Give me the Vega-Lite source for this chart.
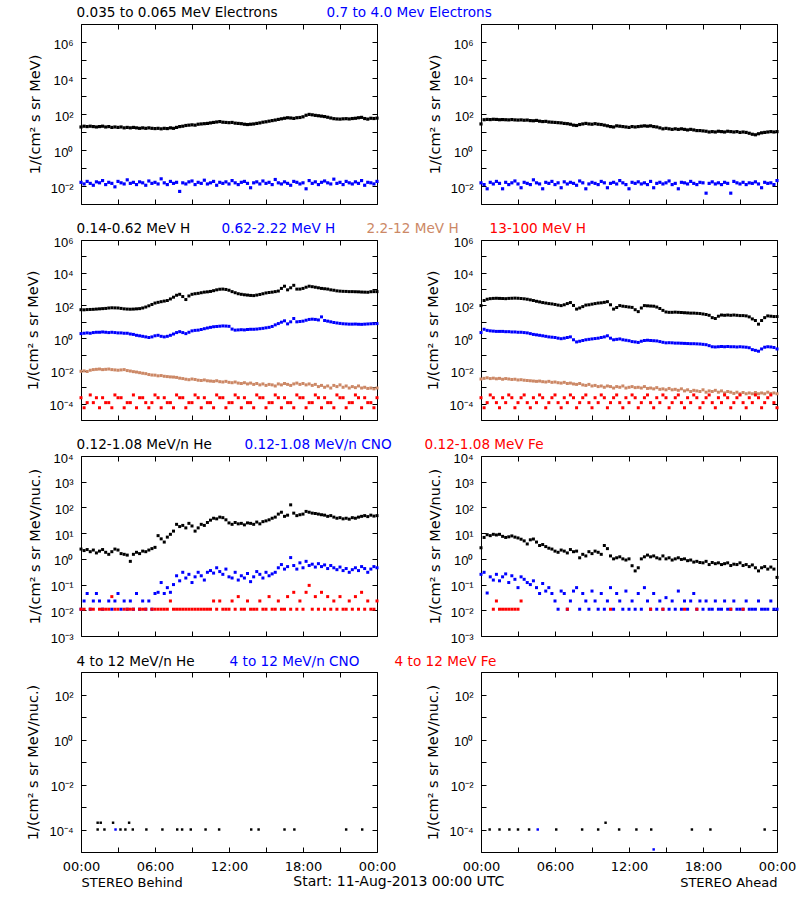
{
"$schema": "https://vega.github.io/schema/vega-lite/v6.json",
"background": "white",
"padding": {"left": 25, "top": 5, "right": 5, "bottom": 5},
"title": {"text": "Start: 11-Aug-2013 00:00 UTC", "orient": "bottom", "anchor": "middle", "font": "DejaVu Sans", "fontSize": 14, "fontWeight": "normal", "color": "black", "offset": 0, "dy": -15, "dx": -12},
"config": {
  "view": {"stroke": "black", "strokeWidth": 1},
  "font": "DejaVu Sans",
  "axis": {"grid": false, "domain": false, "tickColor": "black", "tickSize": -5, "tickWidth": 1, "labelColor": "black", "labelFont": "Liberation Sans", "labelFontSize": 13, "titleFont": "DejaVu Sans", "titleFontSize": 14.5, "titleFontWeight": "normal", "titleColor": "black", "labelFlush": false, "labelOverlap": false, "labelPadding": 13, "titlePadding": 8},
  "axisY": {"labelOffset": 2},
  "axisX": {"labelFont": "DejaVu Sans", "labelFontSize": 13, "titleFontSize": 13, "titlePadding": 3},
  "legend": {"labelFont": "DejaVu Sans", "labelFontSize": 13.6, "symbolSize": 0, "symbolOpacity": 0, "symbolStrokeWidth": 0, "symbolType": "square", "labelOffset": 0, "padding": 0, "labelLimit": 500, "title": null}
},
"datasets": {
"p1": [{"h":0,"a":19,"b":0.016},{"h":0.25,"a":21,"b":0.013},{"h":0.5,"a":20,"b":0.018},{"h":0.75,"a":21,"b":0.014},{"h":1,"a":20,"b":0.011},{"h":1.25,"a":19,"b":0.017},{"h":1.5,"a":20,"b":0.015},{"h":1.75,"a":21,"b":0.02},{"h":2,"a":19,"b":0.012},{"h":2.25,"a":20,"b":0.016},{"h":2.5,"a":18,"b":0.014},{"h":2.75,"a":19,"b":0.009},{"h":3,"a":18,"b":0.018},{"h":3.25,"a":19,"b":0.015},{"h":3.5,"a":17,"b":0.013},{"h":3.75,"a":18,"b":0.022},{"h":4,"a":17,"b":0.014},{"h":4.25,"a":18,"b":0.016},{"h":4.5,"a":17,"b":0.012},{"h":4.75,"a":16,"b":0.017},{"h":5,"a":17,"b":0.015},{"h":5.25,"a":16,"b":0.011},{"h":5.5,"a":17,"b":0.019},{"h":5.75,"a":16,"b":0.014},{"h":6,"a":15.5,"b":0.016},{"h":6.25,"a":16,"b":0.013},{"h":6.5,"a":15,"b":0.025},{"h":6.75,"a":16,"b":0.015},{"h":7,"a":15.5,"b":0.012},{"h":7.25,"a":17,"b":0.018},{"h":7.5,"a":16,"b":0.014},{"h":7.75,"a":18,"b":0.016},{"h":8,"a":20,"b":0.005},{"h":8.25,"a":21,"b":0.015},{"h":8.5,"a":23,"b":0.013},{"h":8.75,"a":24,"b":0.017},{"h":9,"a":25,"b":0.019},{"h":9.25,"a":24,"b":0.012},{"h":9.5,"a":27,"b":0.016},{"h":9.75,"a":28,"b":0.014},{"h":10,"a":29,"b":0.021},{"h":10.25,"a":30,"b":0.013},{"h":10.5,"a":32,"b":0.015},{"h":10.75,"a":34,"b":0.018},{"h":11,"a":36,"b":0.011},{"h":11.25,"a":38,"b":0.016},{"h":11.5,"a":35,"b":0.014},{"h":11.75,"a":34,"b":0.017},{"h":12,"a":33,"b":0.013},{"h":12.25,"a":34,"b":0.02},{"h":12.5,"a":31,"b":0.015},{"h":12.75,"a":30,"b":0.012},{"h":13,"a":29,"b":0.016},{"h":13.25,"a":27,"b":0.018},{"h":13.5,"a":26,"b":0.014},{"h":13.75,"a":27,"b":0.008},{"h":14,"a":28,"b":0.015},{"h":14.25,"a":30,"b":0.017},{"h":14.5,"a":32,"b":0.013},{"h":14.75,"a":35,"b":0.019},{"h":15,"a":37,"b":0.014},{"h":15.25,"a":40,"b":0.016},{"h":15.5,"a":43,"b":0.012},{"h":15.75,"a":46,"b":0.023},{"h":16,"a":50,"b":0.015},{"h":16.25,"a":54,"b":0.013},{"h":16.5,"a":58,"b":0.017},{"h":16.75,"a":62,"b":0.014},{"h":17,"a":60,"b":0.011},{"h":17.25,"a":57,"b":0.018},{"h":17.5,"a":62,"b":0.016},{"h":17.75,"a":64,"b":0.013},{"h":18,"a":70,"b":0.015},{"h":18.25,"a":85,"b":0.007},{"h":18.5,"a":95,"b":0.02},{"h":18.75,"a":90,"b":0.014},{"h":19,"a":84,"b":0.017},{"h":19.25,"a":80,"b":0.012},{"h":19.5,"a":76,"b":0.016},{"h":19.75,"a":72,"b":0.019},{"h":20,"a":66,"b":0.015},{"h":20.25,"a":60,"b":0.013},{"h":20.5,"a":55,"b":0.024},{"h":20.75,"a":53,"b":0.014},{"h":21,"a":52,"b":0.016},{"h":21.25,"a":54,"b":0.012},{"h":21.5,"a":55,"b":0.018},{"h":21.75,"a":53,"b":0.015},{"h":22,"a":56,"b":0.013},{"h":22.25,"a":58,"b":0.017},{"h":22.5,"a":62,"b":0.014},{"h":22.75,"a":65,"b":0.02},{"h":23,"a":56,"b":0.011},{"h":23.25,"a":52,"b":0.016},{"h":23.5,"a":58,"b":0.015},{"h":23.75,"a":56,"b":0.013},{"h":24,"a":59,"b":0.018}],
"p2": [{"h":0,"a":28,"b":0.015},{"h":0.25,"a":48,"b":0.012},{"h":0.5,"a":50,"b":0.007},{"h":0.75,"a":49,"b":0.016},{"h":1,"a":51,"b":0.013},{"h":1.25,"a":50,"b":0.018},{"h":1.5,"a":48,"b":0.014},{"h":1.75,"a":49,"b":0.007},{"h":2,"a":48,"b":0.016},{"h":2.25,"a":47,"b":0.012},{"h":2.5,"a":49,"b":0.015},{"h":2.75,"a":47,"b":0.019},{"h":3,"a":46,"b":0.013},{"h":3.25,"a":47,"b":0.008},{"h":3.5,"a":45,"b":0.016},{"h":3.75,"a":46,"b":0.014},{"h":4,"a":43,"b":0.012},{"h":4.25,"a":42,"b":0.022},{"h":4.5,"a":44,"b":0.015},{"h":4.75,"a":40,"b":0.013},{"h":5,"a":38,"b":0.007},{"h":5.25,"a":39,"b":0.016},{"h":5.5,"a":36,"b":0.014},{"h":5.75,"a":35,"b":0.018},{"h":6,"a":34,"b":0.012},{"h":6.25,"a":33,"b":0.015},{"h":6.5,"a":32,"b":0.008},{"h":6.75,"a":30,"b":0.017},{"h":7,"a":29,"b":0.013},{"h":7.25,"a":27,"b":0.016},{"h":7.5,"a":24,"b":0.014},{"h":7.75,"a":23,"b":0.011},{"h":8,"a":26,"b":0.019},{"h":8.25,"a":28,"b":0.015},{"h":8.5,"a":30,"b":0.007},{"h":8.75,"a":28,"b":0.013},{"h":9,"a":27,"b":0.016},{"h":9.25,"a":29,"b":0.014},{"h":9.5,"a":27,"b":0.012},{"h":9.75,"a":26,"b":0.018},{"h":10,"a":24,"b":0.015},{"h":10.25,"a":22,"b":0.008},{"h":10.5,"a":20,"b":0.014},{"h":10.75,"a":19,"b":0.016},{"h":11,"a":22,"b":0.013},{"h":11.25,"a":21,"b":0.02},{"h":11.5,"a":20,"b":0.015},{"h":11.75,"a":19,"b":0.012},{"h":12,"a":18,"b":0.007},{"h":12.25,"a":20,"b":0.016},{"h":12.5,"a":19,"b":0.014},{"h":12.75,"a":20,"b":0.017},{"h":13,"a":21,"b":0.013},{"h":13.25,"a":22,"b":0.015},{"h":13.5,"a":21,"b":0.012},{"h":13.75,"a":22,"b":0.018},{"h":14,"a":20,"b":0.008},{"h":14.25,"a":19,"b":0.014},{"h":14.5,"a":17,"b":0.016},{"h":14.75,"a":15,"b":0.013},{"h":15,"a":16,"b":0.015},{"h":15.25,"a":15,"b":0.019},{"h":15.5,"a":14,"b":0.012},{"h":15.75,"a":15,"b":0.014},{"h":16,"a":14,"b":0.007},{"h":16.25,"a":15,"b":0.016},{"h":16.5,"a":14,"b":0.015},{"h":16.75,"a":13,"b":0.013},{"h":17,"a":14,"b":0.018},{"h":17.25,"a":13,"b":0.014},{"h":17.5,"a":12,"b":0.012},{"h":17.75,"a":12,"b":0.016},{"h":18,"a":11.5,"b":0.015},{"h":18.25,"a":11,"b":0.004},{"h":18.5,"a":10,"b":0.014},{"h":18.75,"a":10.5,"b":0.017},{"h":19,"a":10,"b":0.013},{"h":19.25,"a":11,"b":0.015},{"h":19.5,"a":10.5,"b":0.012},{"h":19.75,"a":10,"b":0.016},{"h":20,"a":11,"b":0.014},{"h":20.25,"a":10.5,"b":0.004},{"h":20.5,"a":10,"b":0.018},{"h":20.75,"a":10.5,"b":0.015},{"h":21,"a":9.5,"b":0.013},{"h":21.25,"a":10,"b":0.016},{"h":21.5,"a":9.5,"b":0.012},{"h":21.75,"a":8.5,"b":0.015},{"h":22,"a":7.5,"b":0.014},{"h":22.25,"a":7,"b":0.017},{"h":22.5,"a":8,"b":0.013},{"h":22.75,"a":9,"b":0.008},{"h":23,"a":9.5,"b":0.016},{"h":23.25,"a":10,"b":0.014},{"h":23.5,"a":10.5,"b":0.015},{"h":23.75,"a":10,"b":0.012},{"h":24,"a":10.5,"b":0.02}],
"p3": [{"h":0,"a":55,"b":1.9,"c":0.0095,"d":2.3e-4},{"h":0.25,"a":54,"b":2.0,"c":0.010,"d":5.6e-5},{"h":0.5,"a":56,"b":2.1,"c":0.0092,"d":1.15e-4},{"h":0.75,"a":57,"b":2.0,"c":0.011,"d":3.4e-4},{"h":1,"a":58,"b":2.2,"c":0.012,"d":1.15e-4},{"h":1.25,"a":60,"b":2.3,"c":0.0125,"d":2.3e-4},{"h":1.5,"a":62,"b":2.3,"c":0.013,"d":5.6e-5},{"h":1.75,"a":64,"b":2.4,"c":0.012,"d":2.3e-4},{"h":2,"a":66,"b":2.3,"c":0.0125,"d":1.15e-4},{"h":2.25,"a":70,"b":2.2,"c":0.013,"d":1.15e-4},{"h":2.5,"a":72,"b":2.3,"c":0.012,"d":5.6e-5},{"h":2.75,"a":71,"b":2.2,"c":0.0115,"d":3.4e-4},{"h":3,"a":70,"b":2.1,"c":0.011,"d":2.3e-4},{"h":3.25,"a":66,"b":2.1,"c":0.0115,"d":2.3e-4},{"h":3.5,"a":62,"b":2.0,"c":0.012,"d":5.6e-5},{"h":3.75,"a":60,"b":2.0,"c":0.0105,"d":1.15e-4},{"h":4,"a":59,"b":1.8,"c":0.0098,"d":1.15e-4},{"h":4.25,"a":60,"b":1.7,"c":0.009,"d":3.4e-4},{"h":4.5,"a":62,"b":1.5,"c":0.0085,"d":5.6e-5},{"h":4.75,"a":64,"b":1.4,"c":0.0078,"d":2.3e-4},{"h":5,"a":70,"b":1.3,"c":0.0072,"d":2.3e-4},{"h":5.25,"a":80,"b":1.2,"c":0.0068,"d":1.15e-4},{"h":5.5,"a":95,"b":1.1,"c":0.006,"d":5.6e-5},{"h":5.75,"a":115,"b":1.2,"c":0.0056,"d":1.15e-4},{"h":6,"a":140,"b":1.4,"c":0.0055,"d":3.4e-4},{"h":6.25,"a":155,"b":1.5,"c":0.005,"d":2.3e-4},{"h":6.5,"a":170,"b":1.3,"c":0.0052,"d":5.6e-5},{"h":6.75,"a":185,"b":1.2,"c":0.0047,"d":2.3e-4},{"h":7,"a":200,"b":1.3,"c":0.0045,"d":1.15e-4},{"h":7.25,"a":250,"b":1.5,"c":0.0043,"d":1.15e-4},{"h":7.5,"a":320,"b":1.8,"c":0.0042,"d":5.6e-5},{"h":7.75,"a":420,"b":2.2,"c":0.004,"d":3.4e-4},{"h":8,"a":480,"b":2.5,"c":0.0036,"d":2.3e-4},{"h":8.25,"a":350,"b":2.2,"c":0.0034,"d":2.3e-4},{"h":8.5,"a":230,"b":1.9,"c":0.0031,"d":5.6e-5},{"h":8.75,"a":380,"b":2.3,"c":0.0029,"d":1.15e-4},{"h":9,"a":480,"b":2.8,"c":0.0032,"d":1.15e-4},{"h":9.25,"a":520,"b":3.0,"c":0.003,"d":3.4e-4},{"h":9.5,"a":550,"b":3.1,"c":0.0027,"d":2.3e-4},{"h":9.75,"a":600,"b":3.4,"c":0.0026,"d":5.6e-5},{"h":10,"a":650,"b":3.8,"c":0.0028,"d":2.3e-4},{"h":10.25,"a":680,"b":4.2,"c":0.0025,"d":1.15e-4},{"h":10.5,"a":720,"b":4.6,"c":0.0024,"d":1.15e-4},{"h":10.75,"a":800,"b":5.0,"c":0.0023,"d":5.6e-5},{"h":11,"a":900,"b":5.2,"c":0.0025,"d":3.4e-4},{"h":11.25,"a":980,"b":5.4,"c":0.0022,"d":2.3e-4},{"h":11.5,"a":1000,"b":5.6,"c":0.0021,"d":2.3e-4},{"h":11.75,"a":950,"b":5.5,"c":0.0023,"d":5.6e-5},{"h":12,"a":850,"b":5.3,"c":0.0020,"d":1.15e-4},{"h":12.25,"a":700,"b":3.6,"c":0.0019,"d":1.15e-4},{"h":12.5,"a":600,"b":3.1,"c":0.0021,"d":3.4e-4},{"h":12.75,"a":520,"b":3.2,"c":0.0018,"d":2.3e-4},{"h":13,"a":480,"b":3.3,"c":0.0017,"d":5.6e-5},{"h":13.25,"a":450,"b":3.2,"c":0.0019,"d":2.3e-4},{"h":13.5,"a":430,"b":3.4,"c":0.0016,"d":1.15e-4},{"h":13.75,"a":410,"b":3.5,"c":0.0018,"d":1.15e-4},{"h":14,"a":400,"b":3.5,"c":0.0015,"d":5.6e-5},{"h":14.25,"a":430,"b":3.6,"c":0.0017,"d":3.4e-4},{"h":14.5,"a":470,"b":3.8,"c":0.0014,"d":2.3e-4},{"h":14.75,"a":520,"b":4.0,"c":0.0016,"d":2.3e-4},{"h":15,"a":580,"b":4.3,"c":0.0013,"d":5.6e-5},{"h":15.25,"a":620,"b":4.6,"c":0.0015,"d":1.15e-4},{"h":15.5,"a":650,"b":5.2,"c":0.0014,"d":1.15e-4},{"h":15.75,"a":700,"b":6.5,"c":0.0012,"d":3.4e-4},{"h":16,"a":760,"b":7.8,"c":0.0016,"d":2.3e-4},{"h":16.25,"a":1100,"b":9.5,"c":0.0014,"d":5.6e-5},{"h":16.5,"a":1500,"b":11.5,"c":0.0017,"d":2.3e-4},{"h":16.75,"a":900,"b":7.5,"c":0.0015,"d":1.15e-4},{"h":17,"a":1200,"b":10,"c":0.0013,"d":1.15e-4},{"h":17.25,"a":1700,"b":16,"c":0.0016,"d":5.6e-5},{"h":17.5,"a":1000,"b":10,"c":0.0018,"d":3.4e-4},{"h":17.75,"a":1000,"b":10.5,"c":0.0015,"d":2.3e-4},{"h":18,"a":1100,"b":11,"c":0.0017,"d":2.3e-4},{"h":18.25,"a":1300,"b":12.5,"c":0.0014,"d":5.6e-5},{"h":18.5,"a":1500,"b":14,"c":0.0016,"d":1.15e-4},{"h":18.75,"a":1400,"b":14.5,"c":0.0013,"d":1.15e-4},{"h":19,"a":1300,"b":14,"c":0.0015,"d":3.4e-4},{"h":19.25,"a":1200,"b":13,"c":0.0011,"d":2.3e-4},{"h":19.5,"a":1100,"b":20,"c":0.0013,"d":5.6e-5},{"h":19.75,"a":1050,"b":12,"c":0.001,"d":2.3e-4},{"h":20,"a":1000,"b":11,"c":0.0012,"d":1.15e-4},{"h":20.25,"a":900,"b":10,"c":0.0009,"d":1.15e-4},{"h":20.5,"a":850,"b":9.1,"c":0.0013,"d":5.6e-5},{"h":20.75,"a":780,"b":8.5,"c":0.0011,"d":3.4e-4},{"h":21,"a":750,"b":8.0,"c":0.0014,"d":2.3e-4},{"h":21.25,"a":730,"b":7.6,"c":0.001,"d":2.3e-4},{"h":21.5,"a":720,"b":7.4,"c":0.0012,"d":5.6e-5},{"h":21.75,"a":700,"b":7.2,"c":0.0009,"d":1.15e-4},{"h":22,"a":700,"b":7.2,"c":0.0011,"d":1.15e-4},{"h":22.25,"a":690,"b":7.3,"c":0.00095,"d":3.4e-4},{"h":22.5,"a":680,"b":7.1,"c":0.0012,"d":2.3e-4},{"h":22.75,"a":660,"b":7.0,"c":0.0009,"d":5.6e-5},{"h":23,"a":650,"b":7.2,"c":0.001,"d":2.3e-4},{"h":23.25,"a":640,"b":7.4,"c":0.00085,"d":1.15e-4},{"h":23.5,"a":690,"b":7.6,"c":0.0009,"d":1.15e-4},{"h":23.75,"a":700,"b":7.7,"c":0.0008,"d":5.6e-5},{"h":24,"a":700,"b":7.8,"c":0.0009,"d":2.3e-4}],
"p4": [{"h":0,"a":98,"b":2.2,"c":0.0032,"d":2.3e-4},{"h":0.25,"a":200,"b":3.5,"c":0.0035,"d":5.6e-5},{"h":0.5,"a":240,"b":3.0,"c":0.0038,"d":1.15e-4},{"h":0.75,"a":260,"b":2.8,"c":0.0034,"d":3.4e-4},{"h":1,"a":270,"b":2.7,"c":0.0036,"d":2.3e-4},{"h":1.25,"a":275,"b":2.6,"c":0.0033,"d":1.15e-4},{"h":1.5,"a":270,"b":2.6,"c":0.0035,"d":5.6e-5},{"h":1.75,"a":265,"b":2.6,"c":0.0031,"d":2.3e-4},{"h":2,"a":260,"b":2.5,"c":0.0034,"d":1.15e-4},{"h":2.25,"a":270,"b":2.5,"c":0.0032,"d":3.4e-4},{"h":2.5,"a":275,"b":2.4,"c":0.003,"d":2.3e-4},{"h":2.75,"a":280,"b":2.4,"c":0.0031,"d":5.6e-5},{"h":3,"a":275,"b":2.3,"c":0.0028,"d":1.15e-4},{"h":3.25,"a":265,"b":2.3,"c":0.0029,"d":2.3e-4},{"h":3.5,"a":255,"b":2.2,"c":0.0027,"d":3.4e-4},{"h":3.75,"a":240,"b":2.1,"c":0.0026,"d":1.15e-4},{"h":4,"a":220,"b":1.9,"c":0.0025,"d":5.6e-5},{"h":4.25,"a":200,"b":1.7,"c":0.0024,"d":2.3e-4},{"h":4.5,"a":180,"b":1.6,"c":0.0023,"d":1.15e-4},{"h":4.75,"a":165,"b":1.5,"c":0.0024,"d":3.4e-4},{"h":5,"a":150,"b":1.4,"c":0.0022,"d":2.3e-4},{"h":5.25,"a":140,"b":1.3,"c":0.0021,"d":5.6e-5},{"h":5.5,"a":130,"b":1.2,"c":0.0023,"d":1.15e-4},{"h":5.75,"a":124,"b":1.15,"c":0.002,"d":2.3e-4},{"h":6,"a":115,"b":1.1,"c":0.0021,"d":3.4e-4},{"h":6.25,"a":105,"b":1.0,"c":0.0019,"d":1.15e-4},{"h":6.5,"a":98,"b":0.93,"c":0.0018,"d":5.6e-5},{"h":6.75,"a":110,"b":1.0,"c":0.002,"d":2.3e-4},{"h":7,"a":130,"b":1.1,"c":0.0017,"d":1.15e-4},{"h":7.25,"a":150,"b":1.2,"c":0.0018,"d":3.4e-4},{"h":7.5,"a":100,"b":0.8,"c":0.0016,"d":2.3e-4},{"h":7.75,"a":60,"b":0.59,"c":0.0015,"d":5.6e-5},{"h":8,"a":70,"b":0.65,"c":0.0017,"d":1.15e-4},{"h":8.25,"a":85,"b":0.72,"c":0.0014,"d":2.3e-4},{"h":8.5,"a":105,"b":0.8,"c":0.0013,"d":3.4e-4},{"h":8.75,"a":110,"b":0.85,"c":0.0015,"d":1.15e-4},{"h":9,"a":120,"b":0.9,"c":0.0012,"d":5.6e-5},{"h":9.25,"a":130,"b":0.95,"c":0.0013,"d":2.3e-4},{"h":9.5,"a":140,"b":1.0,"c":0.0011,"d":1.15e-4},{"h":9.75,"a":145,"b":1.1,"c":0.0012,"d":3.4e-4},{"h":10,"a":155,"b":1.2,"c":0.001,"d":2.3e-4},{"h":10.25,"a":170,"b":1.4,"c":0.0012,"d":5.6e-5},{"h":10.5,"a":110,"b":1.0,"c":0.0011,"d":1.15e-4},{"h":10.75,"a":60,"b":0.8,"c":0.0009,"d":2.3e-4},{"h":11,"a":75,"b":0.85,"c":0.0011,"d":3.4e-4},{"h":11.25,"a":98,"b":0.9,"c":0.001,"d":1.15e-4},{"h":11.5,"a":90,"b":0.8,"c":0.0012,"d":5.6e-5},{"h":11.75,"a":85,"b":0.75,"c":0.0009,"d":2.3e-4},{"h":12,"a":80,"b":0.7,"c":0.001,"d":1.15e-4},{"h":12.25,"a":76,"b":0.62,"c":0.0011,"d":3.4e-4},{"h":12.5,"a":55,"b":0.59,"c":0.00095,"d":2.3e-4},{"h":12.75,"a":42,"b":0.55,"c":0.001,"d":5.6e-5},{"h":13,"a":70,"b":0.65,"c":0.0009,"d":1.15e-4},{"h":13.25,"a":98,"b":0.72,"c":0.0011,"d":2.3e-4},{"h":13.5,"a":95,"b":0.75,"c":0.00085,"d":3.4e-4},{"h":13.75,"a":92,"b":0.72,"c":0.0009,"d":1.15e-4},{"h":14,"a":90,"b":0.7,"c":0.0008,"d":5.6e-5},{"h":14.25,"a":80,"b":0.68,"c":0.00095,"d":2.3e-4},{"h":14.5,"a":65,"b":0.62,"c":0.00075,"d":1.15e-4},{"h":14.75,"a":50,"b":0.56,"c":0.0008,"d":3.4e-4},{"h":15,"a":40,"b":0.52,"c":0.0007,"d":2.3e-4},{"h":15.25,"a":38,"b":0.53,"c":0.00085,"d":5.6e-5},{"h":15.5,"a":38,"b":0.52,"c":0.0007,"d":1.15e-4},{"h":15.75,"a":39,"b":0.5,"c":0.00075,"d":2.3e-4},{"h":16,"a":38,"b":0.5,"c":0.00065,"d":3.4e-4},{"h":16.25,"a":37,"b":0.49,"c":0.0008,"d":1.15e-4},{"h":16.5,"a":36,"b":0.48,"c":0.0006,"d":5.6e-5},{"h":16.75,"a":35,"b":0.47,"c":0.0007,"d":2.3e-4},{"h":17,"a":34,"b":0.46,"c":0.00055,"d":1.15e-4},{"h":17.25,"a":34,"b":0.46,"c":0.00065,"d":3.4e-4},{"h":17.5,"a":33,"b":0.45,"c":0.0006,"d":2.3e-4},{"h":17.75,"a":32,"b":0.44,"c":0.00055,"d":5.6e-5},{"h":18,"a":30,"b":0.42,"c":0.0007,"d":1.15e-4},{"h":18.25,"a":28,"b":0.4,"c":0.0005,"d":2.3e-4},{"h":18.5,"a":25,"b":0.35,"c":0.0006,"d":3.4e-4},{"h":18.75,"a":18,"b":0.3,"c":0.00055,"d":1.15e-4},{"h":19,"a":16,"b":0.29,"c":0.00065,"d":5.6e-5},{"h":19.25,"a":22,"b":0.3,"c":0.0005,"d":2.3e-4},{"h":19.5,"a":26,"b":0.31,"c":0.0006,"d":1.15e-4},{"h":19.75,"a":25,"b":0.3,"c":0.00045,"d":3.4e-4},{"h":20,"a":26,"b":0.31,"c":0.00055,"d":2.3e-4},{"h":20.25,"a":25,"b":0.3,"c":0.0005,"d":5.6e-5},{"h":20.5,"a":26,"b":0.3,"c":0.00042,"d":1.15e-4},{"h":20.75,"a":25,"b":0.29,"c":0.0005,"d":2.3e-4},{"h":21,"a":24,"b":0.3,"c":0.0004,"d":3.4e-4},{"h":21.25,"a":24,"b":0.29,"c":0.00048,"d":1.15e-4},{"h":21.5,"a":23,"b":0.28,"c":0.0004,"d":5.6e-5},{"h":21.75,"a":20,"b":0.26,"c":0.00045,"d":2.3e-4},{"h":22,"a":15,"b":0.2,"c":0.0004,"d":1.15e-4},{"h":22.25,"a":12,"b":0.18,"c":0.00048,"d":3.4e-4},{"h":22.5,"a":7.2,"b":0.16,"c":0.0004,"d":2.3e-4},{"h":22.75,"a":12,"b":0.22,"c":0.00045,"d":5.6e-5},{"h":23,"a":18,"b":0.28,"c":0.0004,"d":1.15e-4},{"h":23.25,"a":23,"b":0.3,"c":0.0005,"d":2.3e-4},{"h":23.5,"a":22,"b":0.29,"c":0.00042,"d":3.4e-4},{"h":23.75,"a":21,"b":0.27,"c":0.00045,"d":1.15e-4},{"h":24,"a":21,"b":0.22,"c":0.0004,"d":5.6e-5}],
"p5": [{"h":0,"a":2.4,"b":0.011,"c":0.011},{"h":0.25,"a":2.1,"b":0.023,"c":0.011},{"h":0.5,"a":2.3,"b":0.045},{"h":0.75,"a":1.9,"b":0.011,"c":0.011},{"h":1,"a":2.2,"b":0.023,"c":0.011},{"h":1.25,"a":1.7,"b":0.045},{"h":1.5,"a":2.0,"b":0.023,"c":0.011},{"h":1.75,"a":2.3,"b":0.011,"c":0.011},{"h":2,"a":1.8,"c":0.011},{"h":2.25,"a":1.5,"b":0.023,"c":0.011},{"h":2.5,"a":1.9,"b":0.011,"c":0.034},{"h":2.75,"a":2.4,"b":0.023,"c":0.011},{"h":3,"a":2.2,"b":0.045,"c":0.011},{"h":3.25,"a":1.6,"b":0.011},{"h":3.5,"a":1.5,"b":0.023,"c":0.011},{"h":3.75,"a":1.4,"b":0.011,"c":0.011},{"h":4,"a":0.8,"b":0.023,"c":0.011},{"h":4.25,"a":1.5,"b":0.011,"c":0.011},{"h":4.5,"a":1.8,"b":0.045},{"h":4.75,"a":1.6,"b":0.011,"c":0.011},{"h":5,"a":2.0,"b":0.023,"c":0.011},{"h":5.25,"a":1.9,"b":0.011,"c":0.011},{"h":5.5,"a":2.2,"b":0.023},{"h":5.75,"a":2.5,"b":0.011,"c":0.011},{"h":6,"a":2.8,"b":0.045,"c":0.011},{"h":6.25,"a":8,"b":0.05,"c":0.011},{"h":6.5,"a":6,"b":0.12,"c":0.011},{"h":6.75,"a":4.5,"b":0.045,"c":0.011},{"h":7,"a":7,"b":0.076,"c":0.011},{"h":7.25,"a":9,"b":0.05,"c":0.023},{"h":7.5,"a":12,"b":0.1,"c":0.011},{"h":7.75,"a":22,"b":0.22,"c":0.011},{"h":8,"a":18,"b":0.14,"c":0.011},{"h":8.25,"a":20,"b":0.3,"c":0.011},{"h":8.5,"a":16,"b":0.18,"c":0.011},{"h":8.75,"a":24,"b":0.25,"c":0.011},{"h":9,"a":19,"b":0.12,"c":0.011},{"h":9.25,"a":12,"b":0.2,"c":0.011},{"h":9.5,"a":16,"b":0.3,"c":0.011},{"h":9.75,"a":22,"b":0.22,"c":0.011},{"h":10,"a":20,"b":0.15,"c":0.011},{"h":10.25,"a":26,"b":0.3,"c":0.011},{"h":10.5,"a":32,"b":0.35,"c":0.011},{"h":10.75,"a":38,"b":0.28,"c":0.023},{"h":11,"a":36,"b":0.45,"c":0.011},{"h":11.25,"a":42,"b":0.32,"c":0.023},{"h":11.5,"a":40,"b":0.25,"c":0.011},{"h":11.75,"a":33,"b":0.4,"c":0.011},{"h":12,"a":25,"b":0.2,"c":0.011},{"h":12.25,"a":22,"b":0.18,"c":0.023},{"h":12.5,"a":26,"b":0.3,"c":0.011},{"h":12.75,"a":23,"b":0.15,"c":0.034},{"h":13,"a":24,"b":0.22,"c":0.011},{"h":13.25,"a":21,"b":0.18,"c":0.011},{"h":13.5,"a":25,"b":0.27,"c":0.023},{"h":13.75,"a":24,"b":0.13,"c":0.011},{"h":14,"a":22,"b":0.2,"c":0.011},{"h":14.25,"a":27,"b":0.32,"c":0.011},{"h":14.5,"a":23,"b":0.25,"c":0.023},{"h":14.75,"a":28,"b":0.18,"c":0.011},{"h":15,"a":30,"b":0.3,"c":0.011},{"h":15.25,"a":33,"b":0.22,"c":0.034},{"h":15.5,"a":38,"b":0.26,"c":0.011},{"h":15.75,"a":42,"b":0.3,"c":0.011},{"h":16,"a":55,"b":0.45,"c":0.023},{"h":16.25,"a":65,"b":0.6,"c":0.011},{"h":16.5,"a":45,"b":0.4,"c":0.011},{"h":16.75,"a":50,"b":0.5,"c":0.034},{"h":17,"a":126,"b":1.12,"c":0.011},{"h":17.25,"a":60,"b":0.55,"c":0.05},{"h":17.5,"a":48,"b":0.4,"c":0.011},{"h":17.75,"a":52,"b":0.7,"c":0.023},{"h":18,"a":55,"b":0.45,"c":0.011},{"h":18.25,"a":70,"b":0.8,"c":0.05},{"h":18.5,"a":65,"b":0.55,"c":0.093},{"h":18.75,"a":60,"b":0.62,"c":0.011},{"h":19,"a":58,"b":0.48,"c":0.034},{"h":19.25,"a":55,"b":0.65,"c":0.011},{"h":19.5,"a":52,"b":0.5,"c":0.05},{"h":19.75,"a":50,"b":0.58,"c":0.011},{"h":20,"a":45,"b":0.42,"c":0.034},{"h":20.25,"a":48,"b":0.55,"c":0.011},{"h":20.5,"a":42,"b":0.45,"c":0.023},{"h":20.75,"a":38,"b":0.38,"c":0.011},{"h":21,"a":40,"b":0.48,"c":0.034},{"h":21.25,"a":36,"b":0.35,"c":0.011},{"h":21.5,"a":38,"b":0.42,"c":0.011},{"h":21.75,"a":35,"b":0.3,"c":0.023},{"h":22,"a":40,"b":0.38,"c":0.011},{"h":22.25,"a":38,"b":0.45,"c":0.034},{"h":22.5,"a":42,"b":0.35,"c":0.011},{"h":22.75,"a":45,"b":0.5,"c":0.05},{"h":23,"a":48,"b":0.42,"c":0.011},{"h":23.25,"a":44,"b":0.3,"c":0.023},{"h":23.5,"a":50,"b":0.4,"c":0.011},{"h":23.75,"a":46,"b":0.5,"c":0.011},{"h":24,"a":48,"b":0.45,"c":0.023}],
"p6": [{"h":0,"a":2.7,"b":0.25},{"h":0.25,"a":6.8,"b":0.3},{"h":0.5,"a":8.7,"b":0.047},{"h":0.75,"a":8.0,"b":0.2},{"h":1,"a":9.0,"b":0.15,"c":0.011},{"h":1.25,"a":8.5,"b":0.25,"c":0.023},{"h":1.5,"a":9.0,"b":0.14,"c":0.011},{"h":1.75,"a":7.5,"b":0.2,"c":0.011},{"h":2,"a":6.8,"b":0.26,"c":0.011},{"h":2.25,"a":7.2,"b":0.12,"c":0.011},{"h":2.5,"a":7.8,"b":0.22,"c":0.011},{"h":2.75,"a":7.0,"b":0.16,"c":0.011},{"h":3,"a":6.5,"b":0.076,"c":0.011},{"h":3.25,"a":5.8,"b":0.2,"c":0.023},{"h":3.5,"a":5.0,"b":0.16},{"h":3.75,"a":3.8,"b":0.12},{"h":4,"a":5.5,"b":0.1},{"h":4.25,"a":5.9,"b":0.14},{"h":4.5,"a":4.5,"b":0.076},{"h":4.75,"a":3.3,"b":0.045},{"h":5,"a":3.6,"b":0.11},{"h":5.25,"a":3.0,"b":0.056},{"h":5.5,"a":2.6,"b":0.076},{"h":5.75,"a":2.4,"b":0.045},{"h":6,"a":2.0,"b":0.023},{"h":6.25,"a":1.8,"b":0.011},{"h":6.5,"a":2.2,"b":0.056},{"h":6.75,"a":2.0,"b":0.045},{"h":7,"a":1.7,"b":0.011,"c":0.011},{"h":7.25,"a":2.3,"b":0.023},{"h":7.5,"a":1.9,"b":0.056},{"h":7.75,"a":2.0,"b":0.076},{"h":8,"a":1.1,"b":0.011},{"h":8.25,"a":1.5,"b":0.045},{"h":8.5,"a":1.3,"b":0.023},{"h":8.75,"a":1.9,"b":0.011},{"h":9,"a":1.6,"b":0.056},{"h":9.25,"a":2.0,"b":0.023},{"h":9.5,"a":1.8,"b":0.011},{"h":9.75,"a":1.5,"b":0.045},{"h":10,"a":3.3,"b":0.011},{"h":10.25,"a":2.5,"b":0.023},{"h":10.5,"a":1.3,"b":0.076,"c":0.011},{"h":10.75,"a":1.0,"b":0.011},{"h":11,"a":1.1,"b":0.045},{"h":11.25,"a":1.2,"b":0.023},{"h":11.5,"a":1.0,"b":0.011},{"h":11.75,"a":0.9,"b":0.056},{"h":12,"a":1.0,"b":0.011},{"h":12.25,"a":0.54,"b":0.023},{"h":12.5,"a":0.34,"b":0.011},{"h":12.75,"a":0.45,"b":0.045},{"h":13,"a":1.0,"b":0.011},{"h":13.25,"a":1.2,"b":0.076},{"h":13.5,"a":1.4,"b":0.023},{"h":13.75,"a":1.2,"b":0.011,"c":0.011},{"h":14,"a":1.3,"b":0.045},{"h":14.25,"a":1.1,"b":0.011},{"h":14.5,"a":1.0,"b":0.023},{"h":14.75,"a":1.3,"b":0.011,"c":0.011},{"h":15,"a":1.0,"b":0.031},{"h":15.25,"a":1.1,"b":0.011},{"h":15.5,"a":0.9,"b":0.023},{"h":15.75,"a":1.0,"b":0.011},{"h":16,"a":1.1,"b":0.056},{"h":16.25,"a":0.95,"b":0.011},{"h":16.5,"a":1.0,"b":0.023,"c":0.011},{"h":16.75,"a":0.85,"b":0.011},{"h":17,"a":0.9,"b":0.023},{"h":17.25,"a":0.75,"b":0.045},{"h":17.5,"a":0.8,"b":0.011,"c":0.011},{"h":17.75,"a":0.72,"b":0.023},{"h":18,"a":0.7,"b":0.011},{"h":18.25,"a":0.8,"b":0.023},{"h":18.5,"a":0.6,"b":0.011},{"h":18.75,"a":0.72,"b":0.011},{"h":19,"a":0.65,"b":0.023},{"h":19.25,"a":0.7,"b":0.011},{"h":19.5,"a":0.6,"b":0.011},{"h":19.75,"a":0.65,"b":0.023},{"h":20,"a":0.7,"b":0.011},{"h":20.25,"a":0.55,"b":0.011,"c":0.011},{"h":20.5,"a":0.62,"b":0.023},{"h":20.75,"a":0.6,"b":0.011},{"h":21,"a":0.7,"b":0.011},{"h":21.25,"a":0.55,"b":0.011,"c":0.011},{"h":21.5,"a":0.6,"b":0.023},{"h":21.75,"a":0.5,"b":0.011},{"h":22,"a":0.58,"b":0.011},{"h":22.25,"a":0.45,"b":0.011},{"h":22.5,"a":0.34,"b":0.023},{"h":22.75,"a":0.45,"b":0.011},{"h":23,"a":0.5,"b":0.011},{"h":23.25,"a":0.4,"b":0.011},{"h":23.5,"a":0.48,"b":0.023},{"h":23.75,"a":0.4,"b":0.011},{"h":24,"a":0.19,"b":0.011}],
"p7": [{"h":1.35,"a":2e-4},{"h":1.6,"a":2e-4},{"h":2.6,"a":2e-4},{"h":3.9,"a":2e-4},{"h":1.35,"a":1e-4},{"h":1.9,"a":1e-4},{"h":3.2,"a":1e-4},{"h":3.6,"a":1e-4},{"h":4.2,"a":1e-4},{"h":5.3,"a":1e-4},{"h":6.6,"a":1e-4},{"h":7.8,"a":1e-4},{"h":8.2,"a":1e-4},{"h":8.9,"a":1e-4},{"h":10.1,"a":1e-4},{"h":11.2,"a":1e-4},{"h":13.8,"a":1e-4},{"h":14.4,"a":1e-4},{"h":16.5,"a":1e-4},{"h":17.3,"a":1e-4},{"h":21.5,"a":1e-4},{"h":22.8,"a":1e-4},{"h":2.8,"b":1e-4}],
"p8": [{"h":0.7,"a":1e-4},{"h":1.5,"a":1e-4},{"h":2.3,"a":1e-4},{"h":3.0,"a":1e-4},{"h":3.9,"a":1e-4},{"h":6.1,"a":1e-4},{"h":8.2,"a":1e-4},{"h":9.5,"a":1e-4},{"h":10.1,"a":2e-4},{"h":11.2,"a":1e-4},{"h":12.6,"a":1e-4},{"h":13.8,"a":1e-4},{"h":17.1,"a":1e-4},{"h":18.6,"a":1e-4},{"h":23,"a":1e-4},{"h":4.6,"b":1e-4},{"h":14,"b":1.3e-5}]
},
"columns": 2,
"spacing": {"row": 36, "column": 104},
"bounds": "flush",
"resolve": {"scale": {"color": "independent", "x": "independent", "y": "independent"}, "legend": {"color": "independent"}},
"concat": [
{"width": 296, "height": 180, "data": {"name": "p1"},
 "transform": [{"fold": ["a","b"], "as": ["s","v"]}, {"filter": "isValid(datum.v)"}],
 "layer": [
  {"mark": {"type": "square", "size": 10, "opacity": 1},
   "encoding": {
    "x": {"field": "h", "type": "quantitative", "scale": {"domain": [0,24], "nice": false, "zero": false}, "axis": {"values": [0,3,6,9,12,15,18,21,24], "labels": false, "title": null}},
    "y": {"field": "v", "type": "quantitative", "scale": {"type": "log", "domain": [0.001, 10000000], "nice": false}, "axis": {"values": [0.001,0.01,0.1,1,10,100,1000,10000,100000,1000000,10000000], "labelExpr": "round(log(datum.value)/LN10) % 2 == 0 ? '10' + {'-4':'⁻⁴','-2':'⁻²','0':'⁰','2':'²','4':'⁴','6':'⁶'}['' + round(log(datum.value)/LN10)] : ''", "title": "1/(cm² s sr MeV)"}},
    "color": {"field": "s", "type": "nominal", "scale": {"domain": ["a","b"], "range": ["#000000","#0000ff"]},
      "legend": {"orient": "none", "legendX": -18, "legendY": -18, "direction": "horizontal", "columns": 2, "columnPadding": 35, "labelExpr": "{'a':'0.035 to 0.065 MeV Electrons','b':'0.7 to 4.0 Mev Electrons'}[datum.value]", "labelColor": {"expr": "{'a':'#000000','b':'#0000ff'}[datum.value]"}}}
   }},
  {"mark": {"type": "square", "opacity": 0},
   "encoding": {
    "x": {"field": "h", "type": "quantitative", "scale": {"domain": [0,24], "nice": false, "zero": false}, "axis": {"orient": "top", "values": [0,3,6,9,12,15,18,21,24], "labels": false, "title": null}},
    "y": {"field": "v", "type": "quantitative", "scale": {"type": "log", "domain": [0.001, 10000000], "nice": false}, "axis": {"orient": "right", "values": [0.001,0.01,0.1,1,10,100,1000,10000,100000,1000000,10000000], "labels": false, "title": null}}
   }}
 ],
 "resolve": {"axis": {"x": "independent", "y": "independent"}}},
{"width": 296, "height": 180, "data": {"name": "p2"},
 "transform": [{"fold": ["a","b"], "as": ["s","v"]}, {"filter": "isValid(datum.v)"}],
 "layer": [
  {"mark": {"type": "square", "size": 10, "opacity": 1},
   "encoding": {
    "x": {"field": "h", "type": "quantitative", "scale": {"domain": [0,24], "nice": false, "zero": false}, "axis": {"values": [0,3,6,9,12,15,18,21,24], "labels": false, "title": null}},
    "y": {"field": "v", "type": "quantitative", "scale": {"type": "log", "domain": [0.001, 10000000], "nice": false}, "axis": {"values": [0.001,0.01,0.1,1,10,100,1000,10000,100000,1000000,10000000], "labelExpr": "round(log(datum.value)/LN10) % 2 == 0 ? '10' + {'-4':'⁻⁴','-2':'⁻²','0':'⁰','2':'²','4':'⁴','6':'⁶'}['' + round(log(datum.value)/LN10)] : ''", "title": "1/(cm² s sr MeV)"}},
    "color": {"field": "s", "type": "nominal", "scale": {"domain": ["a","b"], "range": ["#000000","#0000ff"]}, "legend": null}
   }},
  {"mark": {"type": "square", "opacity": 0},
   "encoding": {
    "x": {"field": "h", "type": "quantitative", "scale": {"domain": [0,24], "nice": false, "zero": false}, "axis": {"orient": "top", "values": [0,3,6,9,12,15,18,21,24], "labels": false, "title": null}},
    "y": {"field": "v", "type": "quantitative", "scale": {"type": "log", "domain": [0.001, 10000000], "nice": false}, "axis": {"orient": "right", "values": [0.001,0.01,0.1,1,10,100,1000,10000,100000,1000000,10000000], "labels": false, "title": null}}
   }}
 ],
 "resolve": {"axis": {"x": "independent", "y": "independent"}}},
{"width": 296, "height": 180, "data": {"name": "p3"},
 "transform": [{"fold": ["a","b","c","d"], "as": ["s","v"]}, {"filter": "isValid(datum.v)"}],
 "layer": [
  {"mark": {"type": "square", "size": 9, "opacity": 1},
   "encoding": {
    "x": {"field": "h", "type": "quantitative", "scale": {"domain": [0,24], "nice": false, "zero": false}, "axis": {"values": [0,3,6,9,12,15,18,21,24], "labels": false, "title": null}},
    "y": {"field": "v", "type": "quantitative", "scale": {"type": "log", "domain": [0.00001, 1000000], "nice": false}, "axis": {"values": [0.00001,0.0001,0.001,0.01,0.1,1,10,100,1000,10000,100000,1000000], "labelExpr": "round(log(datum.value)/LN10) % 2 == 0 ? '10' + {'-4':'⁻⁴','-2':'⁻²','0':'⁰','2':'²','4':'⁴','6':'⁶'}['' + round(log(datum.value)/LN10)] : ''", "title": "1/(cm² s sr MeV)"}},
    "color": {"field": "s", "type": "nominal", "scale": {"domain": ["a","b","c","d"], "range": ["#000000","#0000ff","#cc8866","#ff0000"]},
      "legend": {"orient": "none", "legendX": -18, "legendY": -18, "direction": "horizontal", "columns": 4, "columnPadding": 17, "labelExpr": "{'a':'0.14-0.62 MeV H','b':'0.62-2.22 MeV H','c':'2.2-12 MeV H','d':'13-100 MeV H'}[datum.value]", "labelColor": {"expr": "{'a':'#000000','b':'#0000ff','c':'#cc8866','d':'#ff0000'}[datum.value]"}}}
   }},
  {"mark": {"type": "square", "opacity": 0},
   "encoding": {
    "x": {"field": "h", "type": "quantitative", "scale": {"domain": [0,24], "nice": false, "zero": false}, "axis": {"orient": "top", "values": [0,3,6,9,12,15,18,21,24], "labels": false, "title": null}},
    "y": {"field": "v", "type": "quantitative", "scale": {"type": "log", "domain": [0.00001, 1000000], "nice": false}, "axis": {"orient": "right", "values": [0.00001,0.0001,0.001,0.01,0.1,1,10,100,1000,10000,100000,1000000], "labels": false, "title": null}}
   }}
 ],
 "resolve": {"axis": {"x": "independent", "y": "independent"}}},
{"width": 296, "height": 180, "data": {"name": "p4"},
 "transform": [{"fold": ["a","b","c","d"], "as": ["s","v"]}, {"filter": "isValid(datum.v)"}],
 "layer": [
  {"mark": {"type": "square", "size": 9, "opacity": 1},
   "encoding": {
    "x": {"field": "h", "type": "quantitative", "scale": {"domain": [0,24], "nice": false, "zero": false}, "axis": {"values": [0,3,6,9,12,15,18,21,24], "labels": false, "title": null}},
    "y": {"field": "v", "type": "quantitative", "scale": {"type": "log", "domain": [0.00001, 1000000], "nice": false}, "axis": {"values": [0.00001,0.0001,0.001,0.01,0.1,1,10,100,1000,10000,100000,1000000], "labelExpr": "round(log(datum.value)/LN10) % 2 == 0 ? '10' + {'-4':'⁻⁴','-2':'⁻²','0':'⁰','2':'²','4':'⁴','6':'⁶'}['' + round(log(datum.value)/LN10)] : ''", "title": "1/(cm² s sr MeV)"}},
    "color": {"field": "s", "type": "nominal", "scale": {"domain": ["a","b","c","d"], "range": ["#000000","#0000ff","#cc8866","#ff0000"]}, "legend": null}
   }},
  {"mark": {"type": "square", "opacity": 0},
   "encoding": {
    "x": {"field": "h", "type": "quantitative", "scale": {"domain": [0,24], "nice": false, "zero": false}, "axis": {"orient": "top", "values": [0,3,6,9,12,15,18,21,24], "labels": false, "title": null}},
    "y": {"field": "v", "type": "quantitative", "scale": {"type": "log", "domain": [0.00001, 1000000], "nice": false}, "axis": {"orient": "right", "values": [0.00001,0.0001,0.001,0.01,0.1,1,10,100,1000,10000,100000,1000000], "labels": false, "title": null}}
   }}
 ],
 "resolve": {"axis": {"x": "independent", "y": "independent"}}},
{"width": 296, "height": 180, "data": {"name": "p5"},
 "transform": [{"fold": ["a","b","c"], "as": ["s","v"]}, {"filter": "isValid(datum.v)"}],
 "layer": [
  {"mark": {"type": "square", "size": 9, "opacity": 1},
   "encoding": {
    "x": {"field": "h", "type": "quantitative", "scale": {"domain": [0,24], "nice": false, "zero": false}, "axis": {"values": [0,3,6,9,12,15,18,21,24], "labels": false, "title": null}},
    "y": {"field": "v", "type": "quantitative", "scale": {"type": "log", "domain": [0.001, 10000], "nice": false}, "axis": {"values": [0.001,0.01,0.1,1,10,100,1000,10000], "labelExpr": "'10' + {'-3':'⁻³','-2':'⁻²','-1':'⁻¹','0':'⁰','1':'¹','2':'²','3':'³','4':'⁴'}['' + round(log(datum.value)/LN10)]", "title": "1/(cm² s sr MeV/nuc.)"}},
    "color": {"field": "s", "type": "nominal", "scale": {"domain": ["a","b","c"], "range": ["#000000","#0000ff","#ff0000"]},
      "legend": {"orient": "none", "legendX": -18, "legendY": -18, "direction": "horizontal", "columns": 3, "columnPadding": 19, "labelExpr": "{'a':'0.12-1.08 MeV/n He','b':'0.12-1.08 MeV/n CNO','c':'0.12-1.08 MeV Fe'}[datum.value]", "labelColor": {"expr": "{'a':'#000000','b':'#0000ff','c':'#ff0000'}[datum.value]"}}}
   }},
  {"mark": {"type": "square", "opacity": 0},
   "encoding": {
    "x": {"field": "h", "type": "quantitative", "scale": {"domain": [0,24], "nice": false, "zero": false}, "axis": {"orient": "top", "values": [0,3,6,9,12,15,18,21,24], "labels": false, "title": null}},
    "y": {"field": "v", "type": "quantitative", "scale": {"type": "log", "domain": [0.001, 10000], "nice": false}, "axis": {"orient": "right", "values": [0.001,0.01,0.1,1,10,100,1000,10000], "labels": false, "title": null}}
   }}
 ],
 "resolve": {"axis": {"x": "independent", "y": "independent"}}},
{"width": 296, "height": 180, "data": {"name": "p6"},
 "transform": [{"fold": ["a","b","c"], "as": ["s","v"]}, {"filter": "isValid(datum.v)"}],
 "layer": [
  {"mark": {"type": "square", "size": 9, "opacity": 1},
   "encoding": {
    "x": {"field": "h", "type": "quantitative", "scale": {"domain": [0,24], "nice": false, "zero": false}, "axis": {"values": [0,3,6,9,12,15,18,21,24], "labels": false, "title": null}},
    "y": {"field": "v", "type": "quantitative", "scale": {"type": "log", "domain": [0.001, 10000], "nice": false}, "axis": {"values": [0.001,0.01,0.1,1,10,100,1000,10000], "labelExpr": "'10' + {'-3':'⁻³','-2':'⁻²','-1':'⁻¹','0':'⁰','1':'¹','2':'²','3':'³','4':'⁴'}['' + round(log(datum.value)/LN10)]", "title": "1/(cm² s sr MeV/nuc.)"}},
    "color": {"field": "s", "type": "nominal", "scale": {"domain": ["a","b","c"], "range": ["#000000","#0000ff","#ff0000"]}, "legend": null}
   }},
  {"mark": {"type": "square", "opacity": 0},
   "encoding": {
    "x": {"field": "h", "type": "quantitative", "scale": {"domain": [0,24], "nice": false, "zero": false}, "axis": {"orient": "top", "values": [0,3,6,9,12,15,18,21,24], "labels": false, "title": null}},
    "y": {"field": "v", "type": "quantitative", "scale": {"type": "log", "domain": [0.001, 10000], "nice": false}, "axis": {"orient": "right", "values": [0.001,0.01,0.1,1,10,100,1000,10000], "labels": false, "title": null}}
   }}
 ],
 "resolve": {"axis": {"x": "independent", "y": "independent"}}},
{"width": 296, "height": 180, "data": {"name": "p7"},
 "transform": [{"fold": ["a","b","c"], "as": ["s","v"]}, {"filter": "isValid(datum.v)"}],
 "layer": [
  {"mark": {"type": "square", "size": 6, "opacity": 1},
   "encoding": {
    "x": {"field": "h", "type": "quantitative", "scale": {"domain": [0,24], "nice": false, "zero": false}, "axis": {"values": [0,3,6,9,12,15,18,21,24], "labelExpr": "datum.value % 6 == 0 ? (datum.value % 24 < 10 ? '0' : '') + (datum.value % 24) + ':00' : ''", "title": "STEREO Behind", "titleAnchor": "start"}},
    "y": {"field": "v", "type": "quantitative", "scale": {"type": "log", "domain": [0.00001, 1000], "nice": false}, "axis": {"values": [0.00001,0.0001,0.001,0.01,0.1,1,10,100,1000], "labelExpr": "round(log(datum.value)/LN10) % 2 == 0 ? '10' + {'-4':'⁻⁴','-2':'⁻²','0':'⁰','2':'²'}['' + round(log(datum.value)/LN10)] : ''", "title": "1/(cm² s sr MeV/nuc.)"}},
    "color": {"field": "s", "type": "nominal", "scale": {"domain": ["a","b","c"], "range": ["#000000","#0000ff","#ff0000"]},
      "legend": {"orient": "none", "legendX": -18, "legendY": -17, "direction": "horizontal", "columns": 3, "columnPadding": 21, "labelExpr": "{'a':'4 to 12 MeV/n He','b':'4 to 12 MeV/n CNO','c':'4 to 12 MeV Fe'}[datum.value]", "labelColor": {"expr": "{'a':'#000000','b':'#0000ff','c':'#ff0000'}[datum.value]"}}}
   }},
  {"mark": {"type": "square", "opacity": 0},
   "encoding": {
    "x": {"field": "h", "type": "quantitative", "scale": {"domain": [0,24], "nice": false, "zero": false}, "axis": {"orient": "top", "values": [0,3,6,9,12,15,18,21,24], "labels": false, "title": null}},
    "y": {"field": "v", "type": "quantitative", "scale": {"type": "log", "domain": [0.00001, 1000], "nice": false}, "axis": {"orient": "right", "values": [0.00001,0.0001,0.001,0.01,0.1,1,10,100,1000], "labels": false, "title": null}}
   }}
 ],
 "resolve": {"axis": {"x": "independent", "y": "independent"}}},
{"width": 296, "height": 180, "data": {"name": "p8"},
 "transform": [{"fold": ["a","b","c"], "as": ["s","v"]}, {"filter": "isValid(datum.v)"}],
 "layer": [
  {"mark": {"type": "square", "size": 6, "opacity": 1},
   "encoding": {
    "x": {"field": "h", "type": "quantitative", "scale": {"domain": [0,24], "nice": false, "zero": false}, "axis": {"values": [0,3,6,9,12,15,18,21,24], "labelExpr": "datum.value % 6 == 0 ? (datum.value % 24 < 10 ? '0' : '') + (datum.value % 24) + ':00' : ''", "title": "STEREO Ahead", "titleAnchor": "end"}},
    "y": {"field": "v", "type": "quantitative", "scale": {"type": "log", "domain": [0.00001, 1000], "nice": false}, "axis": {"values": [0.00001,0.0001,0.001,0.01,0.1,1,10,100,1000], "labelExpr": "round(log(datum.value)/LN10) % 2 == 0 ? '10' + {'-4':'⁻⁴','-2':'⁻²','0':'⁰','2':'²'}['' + round(log(datum.value)/LN10)] : ''", "title": "1/(cm² s sr MeV/nuc.)"}},
    "color": {"field": "s", "type": "nominal", "scale": {"domain": ["a","b","c"], "range": ["#000000","#0000ff","#ff0000"]}, "legend": null}
   }},
  {"mark": {"type": "square", "opacity": 0},
   "encoding": {
    "x": {"field": "h", "type": "quantitative", "scale": {"domain": [0,24], "nice": false, "zero": false}, "axis": {"orient": "top", "values": [0,3,6,9,12,15,18,21,24], "labels": false, "title": null}},
    "y": {"field": "v", "type": "quantitative", "scale": {"type": "log", "domain": [0.00001, 1000], "nice": false}, "axis": {"orient": "right", "values": [0.00001,0.0001,0.001,0.01,0.1,1,10,100,1000], "labels": false, "title": null}}
   }}
 ],
 "resolve": {"axis": {"x": "independent", "y": "independent"}}}
]
}
